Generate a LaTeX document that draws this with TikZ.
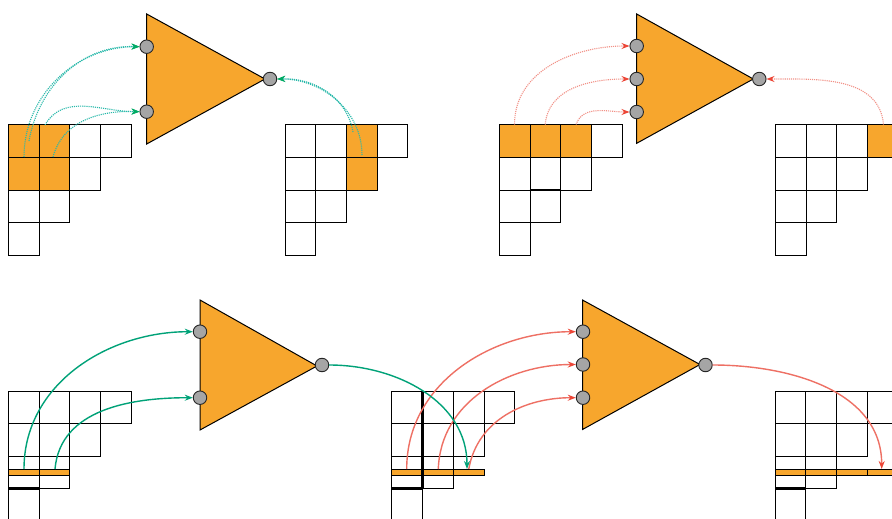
\documentclass[tikz,border=0pt]{standalone}
\usetikzlibrary{arrows.meta}
\definecolor{boxorange}{RGB}{247,166,45}
\definecolor{portgray}{RGB}{165,165,165}
\definecolor{tealdot}{RGB}{40,185,170}
\definecolor{greentip}{RGB}{0,170,100}
\definecolor{greenarc}{RGB}{0,162,120}
\definecolor{reddot}{RGB}{242,145,135}
\definecolor{redarc}{RGB}{238,112,100}
\definecolor{redtip}{RGB}{236,70,55}

\tikzset{
  cellline/.style={draw=black, line width=1pt},
  filledcell/.style={fill=boxorange},
  thickedge/.style={draw=black, line width=2.3pt},
  gate/.style={draw=black, line width=1pt, fill=boxorange, line join=miter},
  port/.style={circle, draw=black!85, fill=portgray, line width=0.9pt, minimum size=13.5pt, inner sep=0pt},
  greendots/.style={draw=tealdot, line width=1.1pt, densely dotted,
    -{Stealth[length=8pt,width=6pt,color=greentip]}},
  greensolid/.style={draw=greenarc, line width=1.4pt,
    -{Stealth[length=8pt,width=6pt,color=greenarc]}},
  reddots/.style={draw=reddot, line width=1.1pt, densely dotted,
    -{Stealth[length=8pt,width=6pt,color=redtip]}},
  redsolid/.style={draw=redarc, line width=1.4pt,
    -{Stealth[length=8pt,width=6pt,color=redtip]}},
}

% staircase of rows 4,3,2,1 with top-left corner (#1,#2), cell width #3, height #4
\newcommand\staircase[4]{%
  \foreach \r/\len in {0/4,1/3,2/2,3/1}{%
    \foreach \c in {1,...,\len}{%
      \draw[cellline] ({#1+(\c-1)*#3},{#2+\r*#4}) rectangle ++(#3,#4);
    }%
  }%
}
% one orange cell at column #5, row #6
\newcommand\orangecell[6]{%
  \fill[filledcell] ({#1+(#5-1)*#3},{#2+(#6-1)*#4}) rectangle ++(#3,#4);
}
% thin orange strip of #5 cells inside the third row
\newcommand\strip[5]{%
  \foreach \c in {1,...,#5}{%
    \draw[cellline, fill=boxorange] ({#1+(\c-1)*#3},{#2+2*#4+13}) rectangle ++(#3,6.7);
  }%
}

\begin{document}
\begin{tikzpicture}[x=1pt,y=-1pt]
\useasboundingbox (0,0) rectangle (892,519);
\clip (0,0) rectangle (892,519);
\fill[white] (0,0) rectangle (892,519);

% ---------------- upper left ----------------
\foreach \c/\r in {1/1,2/1,1/2,2/2}{\orangecell{8.5}{124.5}{30.7}{32.8}{\c}{\r}}
\staircase{8.5}{124.5}{30.7}{32.8}
\foreach \r in {1,2}{\orangecell{285}{124.5}{30.7}{32.8}{3}{\r}}
\staircase{285}{124.5}{30.7}{32.8}

\draw[gate] (146.7,14) -- (265,79) -- (146.7,144) -- cycle;
\node[port] (a1) at (146.7,46.7) {};
\node[port] (a2) at (146.7,111.7) {};
\node[port] (ao) at (270,79) {};

\coordinate (sa1) at (24,157);
\coordinate (sa2) at (29,141);
\coordinate (sa3) at (45,125);
\coordinate (sa4) at (53,157);
\coordinate (sa5) at (362,155);
\coordinate (sa6) at (353,132);

\draw[greendots] (sa1) to[out=90,in=180] (a1.west);
\draw[greendots] (sa2) to[out=80,in=178] (a1.west);
\draw[greendots] (sa3) to[out=60,in=180] (a2.west);
\draw[greendots] (sa4) to[out=75,in=178] (a2.west);
\draw[greendots] (sa5) to[out=90,in=0] (ao.east);
\draw[greendots] (sa6) to[out=100,in=2] (ao.east);

% ---------------- upper right ----------------
\foreach \c in {1,2,3}{\orangecell{499.3}{124.5}{30.7}{32.8}{\c}{1}}
\staircase{499.3}{124.5}{30.7}{32.8}
\draw[thickedge] (529.8,190.1) -- (560.5,190.1);
\orangecell{775.5}{124.5}{30.7}{32.8}{4}{1}
\staircase{775.5}{124.5}{30.7}{32.8}

\draw[gate] (636.7,14) -- (753.3,79) -- (636.7,143.3) -- cycle;
\node[port] (b1) at (636.7,46) {};
\node[port] (b2) at (636.7,79) {};
\node[port] (b3) at (636.7,112) {};
\node[port] (bo) at (759.3,79) {};

\coordinate (sb1) at (514.5,124.5);
\coordinate (sb2) at (545.2,124.5);
\coordinate (sb3) at (576,124.5);
\coordinate (sb4) at (883.5,124.5);

\draw[reddots] (sb1) to[out=90,in=180] (b1.west);
\draw[reddots] (sb2) to[out=85,in=180] (b2.west);
\draw[reddots] (sb3) to[out=70,in=180] (b3.west);
\draw[reddots] (sb4) to[out=95,in=0] (bo.east);

% ---------------- lower left ----------------
\staircase{8.3}{391}{30.8}{32.5}
\strip{8.3}{391}{30.8}{32.5}{2}
\draw[thickedge] (8.3,488.5) -- (39.1,488.5);

\draw[gate] (200,300) -- (317,366) -- (200,430) -- cycle;
\node[port] (c1) at (200,331.7) {};
\node[port] (c2) at (200,397.7) {};
\node[port] (co) at (322,365) {};

% ---------------- lower right ----------------
\staircase{391.7}{391}{30.8}{32.5}
\strip{391.7}{391}{30.8}{32.5}{3}
\draw[thickedge] (391.7,488.5) -- (422.5,488.5);
\draw[thickedge] (422.5,391) -- (422.5,488.5);

\staircase{775}{391}{30.8}{32.5}
\strip{775}{391}{30.8}{32.5}{4}
\draw[thickedge] (775,488.5) -- (805.8,488.5);

\draw[gate] (582.5,300) -- (700,364.5) -- (582.5,429.5) -- cycle;
\node[port] (d1) at (583,331.7) {};
\node[port] (d2) at (583,364.5) {};
\node[port] (d3) at (583,397.7) {};
\node[port] (do) at (705.5,365) {};

% arcs of the lower row
\coordinate (sc1) at (24,469);
\coordinate (sc2) at (55,469);
\coordinate (ec1) at (467,469);
\coordinate (sd1) at (406.7,469);
\coordinate (sd2) at (438.3,469);
\coordinate (sd3) at (468.8,469);
\coordinate (ed1) at (881.7,469);

\draw[greensolid] (sc1) to[out=90,in=180] (c1.west);
\draw[greensolid] (sc2) to[out=85,in=180] (c2.west);
\draw[redsolid] (sd1) to[out=90,in=180] (d1.west);
\draw[redsolid] (sd2) to[out=88,in=180] (d2.west);
\draw[redsolid] (sd3) to[out=80,in=180] (d3.west);
\draw[greensolid] (co.east) to[out=0,in=90] (ec1);
\draw[redsolid] (do.east) to[out=0,in=90] (ed1);
\end{tikzpicture}
\end{document}
